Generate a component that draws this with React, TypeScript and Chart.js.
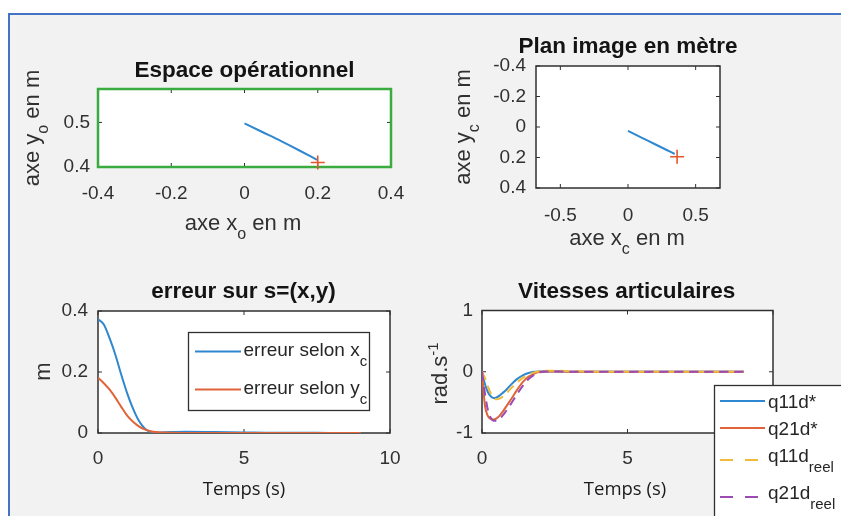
import React, { useEffect, useRef } from "react";
import { Chart, registerables } from "chart.js";

Chart.register(...registerables);

const W = 841;
const H = 516;
const FONT = '"Liberation Sans", Arial, Helvetica, sans-serif';
const FONT_TEMPS = '"Open Sans", "Noto Sans", sans-serif';

// ---------------- Données ----------------
// Espace opérationnel
const opTrajX = [0, 0.05, 0.1, 0.15, 0.198];
const opTrajY = [0.498, 0.478, 0.458, 0.437, 0.416];
const opCibleX = [0.2];
const opCibleY = [0.41];
const opTicksX = [-0.4, -0.2, 0, 0.2, 0.4];
const opTicksY = [0.4, 0.5];

// Plan image en mètre
const imTrajX = [0, 0.1, 0.2, 0.3, 0.345];
const imTrajY = [0.026, 0.07, 0.113, 0.157, 0.177];
const imCibleX = [0.363];
const imCibleY = [0.195];
const imTicksX = [-0.5, 0, 0.5];
const imTicksY = [-0.4, -0.2, 0, 0.2, 0.4];

// Erreur sur s=(x,y)
const tErr = [0, 0.2, 0.4, 0.6, 0.8, 1.0, 1.2, 1.4, 1.6, 1.8, 2.0, 2.5, 3, 4, 5, 6, 7, 8, 9];
const errX = [0.373, 0.356, 0.31, 0.255, 0.19, 0.13, 0.08, 0.04, 0.015, 0.004, 0.001, 0.003, 0.004, 0.003, 0.002, 0.001, 0.001, 0, 0];
const errY = [0.181, 0.163, 0.142, 0.115, 0.085, 0.057, 0.037, 0.022, 0.012, 0.006, 0.003, 0.0005, 0, 0, 0, 0, 0, 0, 0];
const errTicksX = [0, 5, 10];
const errTicksY = [0, 0.2, 0.4];

// Vitesses articulaires
const tVit = [0, 0.1, 0.2, 0.3, 0.4, 0.5, 0.6, 0.7, 0.8, 0.9, 1.0, 1.2, 1.4, 1.6, 1.8, 2.0, 2.2, 2.5, 3, 4, 5, 6, 7, 8, 9];
const q11dStar = [0, -0.2, -0.33, -0.4, -0.43, -0.42, -0.39, -0.35, -0.31, -0.26, -0.21, -0.12, -0.06, -0.02, 0, 0.005, 0.005, 0.003, 0.001, 0, 0, 0, 0, 0, 0];
const q21dStar = [0, -0.55, -0.72, -0.77, -0.78, -0.76, -0.72, -0.66, -0.59, -0.52, -0.45, -0.3, -0.17, -0.08, -0.03, 0, 0.005, 0.005, 0.002, 0, 0, 0, 0, 0, 0];
const q11dReel = [0, -0.1, -0.24, -0.35, -0.42, -0.45, -0.44, -0.41, -0.37, -0.32, -0.27, -0.18, -0.1, -0.045, -0.01, 0.01, 0.018, 0.018, 0.01, 0.002, 0, 0, 0, 0, 0];
const q21dReel = [0, -0.35, -0.62, -0.75, -0.8, -0.8, -0.77, -0.72, -0.66, -0.59, -0.52, -0.37, -0.23, -0.12, -0.05, -0.01, 0.005, 0.005, 0.002, 0, 0, 0, 0, 0, 0];
const vitTicksX = [0, 5, 10];
const vitTicksY = [-1, 0, 1];

// ---------------- Styles ----------------
const BLUE = "#2f88cf";
const ORANGE = "#e0643a";
const YELLOW = "#f0bb3a";
const PURPLE = "#9a4cb2";
const MARK = "#e6562a";
const AXC = "#303030";

type Part = { t: string; sub?: boolean; sup?: boolean };
type TxtOpt = { size: number; subSize?: number; shift?: number; align?: "center" | "left"; color?: string; family?: string; weight?: string };

function drawParts(ctx: CanvasRenderingContext2D, parts: Part[], x: number, y: number, o: TxtOpt) {
  const subSize = o.subSize ?? o.size * 0.72;
  const shift = o.shift ?? o.size * 0.4;
  const family = o.family ?? FONT;
  const weight = o.weight ?? "normal";
  const fontOf = (p: Part) => `${weight} ${p.sub || p.sup ? subSize : o.size}px ${family}`;
  let total = 0;
  for (const p of parts) {
    ctx.font = fontOf(p);
    total += ctx.measureText(p.t).width;
  }
  let cx = (o.align ?? "center") === "center" ? x - total / 2 : x;
  ctx.fillStyle = o.color ?? AXC;
  ctx.textAlign = "left";
  ctx.textBaseline = "alphabetic";
  for (const p of parts) {
    ctx.font = fontOf(p);
    const dy = p.sub ? shift : p.sup ? -shift : 0;
    ctx.fillText(p.t, cx, y + dy);
    cx += ctx.measureText(p.t).width;
  }
}

function drawRotated(ctx: CanvasRenderingContext2D, parts: Part[], x: number, y: number, o: TxtOpt) {
  ctx.save();
  ctx.translate(x, y);
  ctx.rotate(-Math.PI / 2);
  drawParts(ctx, parts, 0, 0, o);
  ctx.restore();
}

const fmt = (v: number | string) => String(Math.round(Number(v) * 1000) / 1000);

type Box = { l: number; t: number; r: number; b: number };

function axesPlugin(boxColor: string, boxWidth: number, decorate: (ctx: CanvasRenderingContext2D, chart: any) => void) {
  return {
    id: "matlabAxes",
    beforeDatasetsDraw(chart: any) {
      const { ctx, chartArea: a, scales } = chart;
      ctx.save();
      ctx.fillStyle = "#ffffff";
      ctx.fillRect(a.left, a.top, a.right - a.left, a.bottom - a.top);
      ctx.strokeStyle = AXC;
      ctx.lineWidth = 1;
      const tl = 4;
      ctx.beginPath();
      for (const t of scales.x.ticks) {
        const px = scales.x.getPixelForValue(t.value);
        ctx.moveTo(px, a.top);
        ctx.lineTo(px, a.top + tl);
        ctx.moveTo(px, a.bottom);
        ctx.lineTo(px, a.bottom - tl);
      }
      for (const t of scales.y.ticks) {
        const py = scales.y.getPixelForValue(t.value);
        ctx.moveTo(a.left, py);
        ctx.lineTo(a.left + tl, py);
        ctx.moveTo(a.right, py);
        ctx.lineTo(a.right - tl, py);
      }
      ctx.stroke();
      ctx.strokeStyle = boxColor;
      ctx.lineWidth = boxWidth;
      ctx.strokeRect(a.left, a.top, a.right - a.left, a.bottom - a.top);
      ctx.restore();
    },
    afterDraw(chart: any) {
      const ctx = chart.ctx;
      ctx.save();
      decorate(ctx, chart);
      ctx.restore();
    },
  };
}

function makeConfig(o: {
  box: Box;
  xMin: number; xMax: number; yMin: number; yMax: number;
  xTicks: number[]; yTicks: number[];
  reverseY?: boolean;
  xPad: number; yPad: number;
  datasets: any[];
  plugin: any;
}): any {
  const yW = 60;
  const xH = 40;
  return {
    type: "line",
    data: { datasets: o.datasets },
    options: {
      animation: false,
      responsive: false,
      maintainAspectRatio: false,
      events: [],
      layout: { padding: { left: o.box.l - yW, top: o.box.t, right: W - o.box.r, bottom: H - o.box.b - xH } },
      plugins: { legend: { display: false }, title: { display: false }, tooltip: { enabled: false } },
      elements: { point: { radius: 0 }, line: { borderWidth: 2 } },
      scales: {
        x: {
          type: "linear",
          position: "bottom",
          min: o.xMin,
          max: o.xMax,
          bounds: "data",
          grid: { display: false, drawTicks: false },
          border: { display: false },
          ticks: { font: { family: FONT, size: 19 }, color: AXC, padding: o.xPad, maxRotation: 0, autoSkip: false, callback: fmt },
          afterBuildTicks: (s: any) => { s.ticks = o.xTicks.map((v) => ({ value: v })); },
          afterFit: (s: any) => { s.height = xH; s.paddingLeft = 0; s.paddingRight = 0; },
        },
        y: {
          type: "linear",
          position: "left",
          min: o.yMin,
          max: o.yMax,
          reverse: !!o.reverseY,
          bounds: "data",
          grid: { display: false, drawTicks: false },
          border: { display: false },
          ticks: { font: { family: FONT, size: 19 }, color: AXC, padding: o.yPad, autoSkip: false, callback: fmt },
          afterBuildTicks: (s: any) => { s.ticks = o.yTicks.map((v) => ({ value: v })); },
          afterFit: (s: any) => { s.width = yW; s.paddingTop = 0; s.paddingBottom = 0; },
        },
      },
    },
    plugins: [o.plugin],
  };
}

const pts = (xs: number[], ys: number[]) => xs.map((x, i) => ({ x, y: ys[i] }));

// order: smaller value = drawn on top (MATLAB draws later series on top)
const lineDs = (label: string, xs: number[], ys: number[], color: string, order: number, dash?: number[]) => ({
  label,
  order,
  data: pts(xs, ys),
  borderColor: color,
  backgroundColor: color,
  borderWidth: 2,
  borderDash: dash ?? [],
  pointRadius: 0,
  fill: false,
  cubicInterpolationMode: "monotone",
});

const markDs = (label: string, xs: number[], ys: number[]) => ({
  label,
  order: 0,
  data: pts(xs, ys),
  showLine: false,
  pointStyle: "cross",
  pointRadius: 7,
  pointBorderWidth: 1.6,
  pointBorderColor: MARK,
  borderColor: MARK,
  clip: false,
});

const TITLE: TxtOpt = { size: 22.5, weight: "bold", color: "#141414" };
const LABEL: TxtOpt = { size: 22, subSize: 16, shift: 9 };
const TEMPS: TxtOpt = { size: 18.5, family: FONT_TEMPS, color: "#1a1a1a" };
const LEG: TxtOpt = { size: 19, subSize: 15, shift: 9.5, align: "left", color: "#262626" };

function configs(): any[] {
  // 1. Espace opérationnel
  const c1 = makeConfig({
    box: { l: 98, t: 89, r: 391, b: 167 },
    xMin: -0.4, xMax: 0.4, yMin: 0.4, yMax: 0.575,
    xTicks: opTicksX, yTicks: opTicksY,
    xPad: 15, yPad: 8,
    datasets: [lineDs("trajectoire", opTrajX, opTrajY, BLUE, 1), markDs("cible", opCibleX, opCibleY)],
    plugin: axesPlugin("#3aab3f", 2.5, (ctx) => {
      drawParts(ctx, [{ t: "Espace opérationnel" }], 244.5, 76.5, TITLE);
      drawParts(ctx, [{ t: "axe x" }, { t: "o", sub: true }, { t: " en m" }], 243, 230, LABEL);
      drawRotated(ctx, [{ t: "axe y" }, { t: "o", sub: true }, { t: " en m" }], 39, 128, LABEL);
    }),
  });

  // 2. Plan image en mètre
  const c2 = makeConfig({
    box: { l: 536, t: 66, r: 720, b: 188 },
    xMin: -0.68, xMax: 0.68, yMin: -0.4, yMax: 0.4, reverseY: true,
    xTicks: imTicksX, yTicks: imTicksY,
    xPad: 16, yPad: 10,
    datasets: [lineDs("trajectoire", imTrajX, imTrajY, BLUE, 1), markDs("cible", imCibleX, imCibleY)],
    plugin: axesPlugin(AXC, 1.5, (ctx) => {
      drawParts(ctx, [{ t: "Plan image en mètre" }], 628, 53, TITLE);
      drawParts(ctx, [{ t: "axe x" }, { t: "c", sub: true }, { t: " en m" }], 627, 245, LABEL);
      drawRotated(ctx, [{ t: "axe y" }, { t: "c", sub: true }, { t: " en m" }], 470, 127, LABEL);
    }),
  });

  // 3. erreur sur s=(x,y)
  const c3 = makeConfig({
    box: { l: 98, t: 311, r: 390, b: 433 },
    xMin: 0, xMax: 10, yMin: 0, yMax: 0.4,
    xTicks: errTicksX, yTicks: errTicksY,
    xPad: 14, yPad: 10,
    datasets: [lineDs("erreur selon xc", tErr, errX, BLUE, 2), lineDs("erreur selon yc", tErr, errY, ORANGE, 1)],
    plugin: axesPlugin(AXC, 1.5, (ctx) => {
      drawParts(ctx, [{ t: "erreur sur s=(x,y)" }], 243.5, 298, TITLE);
      drawRotated(ctx, [{ t: "m" }], 50, 371.5, LABEL);
      drawParts(ctx, [{ t: "Temps (s)" }], 244, 495, TEMPS);
      // légende
      ctx.fillStyle = "#ffffff";
      ctx.fillRect(188, 332, 181, 78);
      ctx.strokeStyle = AXC;
      ctx.lineWidth = 1.3;
      ctx.strokeRect(188.5, 332.5, 181, 78);
      const rows: { color: string; y: number; parts: Part[] }[] = [
        { color: BLUE, y: 351.5, parts: [{ t: "erreur selon x" }, { t: "c", sub: true }] },
        { color: ORANGE, y: 389.5, parts: [{ t: "erreur selon y" }, { t: "c", sub: true }] },
      ];
      for (const r of rows) {
        ctx.strokeStyle = r.color;
        ctx.lineWidth = 2;
        ctx.beginPath();
        ctx.moveTo(195, r.y);
        ctx.lineTo(241, r.y);
        ctx.stroke();
        drawParts(ctx, r.parts, 243.5, r.y + 4.5, LEG);
      }
    }),
  });

  // 4. Vitesses articulaires
  const c4 = makeConfig({
    box: { l: 482, t: 310.5, r: 773, b: 433 },
    xMin: 0, xMax: 10, yMin: -1, yMax: 1,
    xTicks: vitTicksX, yTicks: vitTicksY,
    xPad: 14, yPad: 9,
    datasets: [
      lineDs("q11d*", tVit, q11dStar, BLUE, 4),
      lineDs("q21d*", tVit, q21dStar, ORANGE, 3),
      lineDs("q11d_reel", tVit, q11dReel, YELLOW, 2, [9, 6]),
      lineDs("q21d_reel", tVit, q21dReel, PURPLE, 1, [9, 6]),
    ],
    plugin: axesPlugin(AXC, 1.5, (ctx) => {
      drawParts(ctx, [{ t: "Vitesses articulaires" }], 626.7, 298, TITLE);
      drawRotated(ctx, [{ t: "rad.s" }, { t: "-1", sup: true }], 447, 373.5, { size: 22, subSize: 15, shift: 9 });
      drawParts(ctx, [{ t: "Temps (s)" }], 625, 495, TEMPS);
      // légende
      ctx.fillStyle = "#ffffff";
      ctx.fillRect(714, 385, 140, 140);
      ctx.strokeStyle = AXC;
      ctx.lineWidth = 1.3;
      ctx.strokeRect(714.5, 385.5, 140, 140);
      const rows: { color: string; y: number; base: number; dash: number[]; parts: Part[] }[] = [
        { color: BLUE, y: 401, base: 407.5, dash: [], parts: [{ t: "q11d*" }] },
        { color: ORANGE, y: 428, base: 434.5, dash: [], parts: [{ t: "q21d*" }] },
        { color: YELLOW, y: 460, base: 462, dash: [13, 12], parts: [{ t: "q11d" }, { t: "reel", sub: true }] },
        { color: PURPLE, y: 497, base: 499, dash: [13, 12], parts: [{ t: "q21d" }, { t: "reel", sub: true }] },
      ];
      for (const r of rows) {
        ctx.strokeStyle = r.color;
        ctx.lineWidth = 2;
        ctx.setLineDash(r.dash);
        ctx.beginPath();
        ctx.moveTo(720, r.y);
        ctx.lineTo(765, r.y);
        ctx.stroke();
        ctx.setLineDash([]);
        drawParts(ctx, r.parts, 768, r.base, LEG);
      }
    }),
  });

  return [c1, c2, c3, c4];
}

export default function App() {
  const r1 = useRef<HTMLCanvasElement>(null);
  const r2 = useRef<HTMLCanvasElement>(null);
  const r3 = useRef<HTMLCanvasElement>(null);
  const r4 = useRef<HTMLCanvasElement>(null);
  const refs = [r1, r2, r3, r4];

  useEffect(() => {
    const cfgs = configs();
    const charts = refs.map((r, i) => new Chart(r.current as HTMLCanvasElement, cfgs[i]));
    return () => charts.forEach((c) => c.destroy());
  }, []);

  return (
    <div style={{ position: "absolute", left: 0, top: 0, width: W, height: H, background: "#ffffff", overflow: "hidden" }}>
      <div
        style={{
          position: "absolute",
          left: 8,
          top: 12.5,
          right: 0,
          bottom: 0,
          background: "#f2f2f2",
          borderTop: "2px solid #4472c4",
          borderLeft: "2px solid #4472c4",
        }}
      />
      {refs.map((r, i) => (
        <canvas key={i} ref={r} width={W} height={H} style={{ position: "absolute", left: 0, top: 0, width: W, height: H }} />
      ))}
    </div>
  );
}
